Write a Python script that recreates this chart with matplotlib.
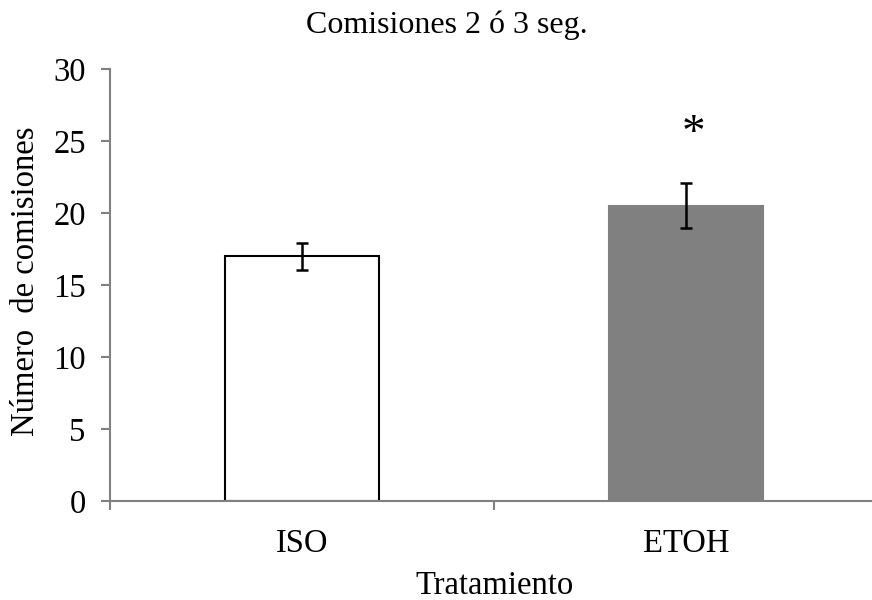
import matplotlib
matplotlib.use("Agg")
import matplotlib.pyplot as plt

categories = ["ISO", "ETOH"]
values = [17.0, 20.5]
errors = [0.95, 1.55]
colors = ["white", "#808080"]
edgecolors = ["black", "#808080"]
yticks = [0, 5, 10, 15, 20, 25, 30]
signif_y = 25.4

plt.rcParams['font.family'] = ['Liberation Serif', 'DejaVu Serif']

W, H = 872, 600
fig = plt.figure(figsize=(W / 100, H / 100), dpi=100)
ax = fig.add_axes([110/W, 1 - 501/H, 768/W, (501 - 69)/H])

x = list(range(len(categories)))
ax.bar(x, values, width=0.4, color=colors, edgecolor=edgecolors, linewidth=1.5,
       yerr=errors, capsize=4.5,
       error_kw=dict(ecolor='black', elinewidth=1.8, capthick=1.8), zorder=2)

ax.set_xlim(-0.5, 1.5)
ax.set_ylim(0, 30)
ax.set_yticks(yticks)
ax.set_xticks([-0.5, 0.5, 1.5])
ax.set_xticklabels([])
ax.set_xticks(x, minor=True)
ax.set_xticklabels(categories, minor=True)
ax.tick_params(axis='x', which='minor', length=0, labelsize=23.5, pad=20)
ax.tick_params(axis='x', which='major', length=6.5, color='#808080', width=1.5)
ax.tick_params(axis='y', length=6.5, color='#808080', width=1.5, labelsize=23.5, pad=11)

for s in ['top', 'right']:
    ax.spines[s].set_visible(False)
for s in ['left', 'bottom']:
    ax.spines[s].set_color('#808080')
    ax.spines[s].set_linewidth(1.5)

ax.set_ylabel("Número  de comisiones", fontsize=23.5)
ax.yaxis.set_label_coords(41/W, 1 - 281/H, transform=fig.transFigure)
fig.text(495/W, 1 - 594/H, "Tratamiento", fontsize=23.5, ha='center', va='baseline')
fig.text(447/W, 1 - 33/H, "Comisiones 2 ó 3 seg.", fontsize=23, ha='center', va='baseline')

ax.text(1.02, signif_y, "*", fontsize=34, ha='center', va='center')

fig.savefig("out.png", dpi=100)
